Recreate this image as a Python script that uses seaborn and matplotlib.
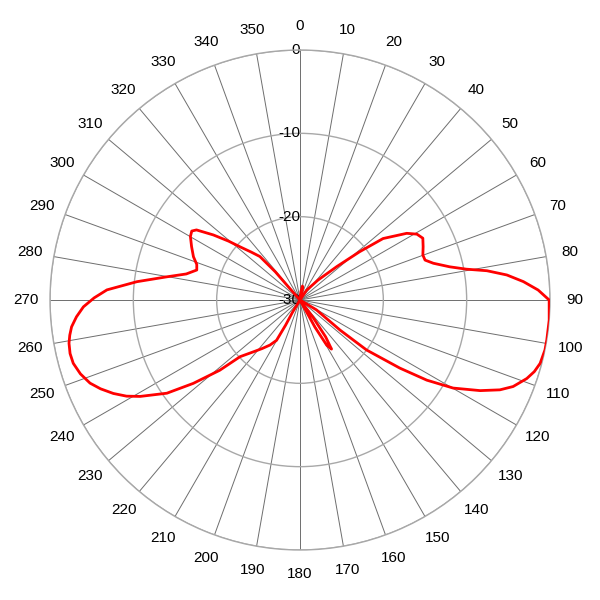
import numpy as np
import pandas as pd
import matplotlib.pyplot as plt
import seaborn as sns

sns.set_style("white")
plt.rcParams['font.family'] = ['Liberation Sans', 'DejaVu Sans']
plt.rcParams['text.color'] = 'black'

# radiation pattern, in drawing order
# (degrees clockwise from north, gain in dB)
angle_deg = [0, 6, 10, 13, 18, 30, 33.8, 42, 47.8, 51, 53.5, 58, 60.6, 63.3, 66.6, 69.9,
             72.3, 74.6, 77.5, 79.5, 81.1, 83.1, 85.3, 87.6, 90, 94.6, 99.2, 101.5, 104.8,
             107, 109.1, 112.1, 114.2, 116.7, 119.9, 122.3, 124.3, 126.9, 126.9, 121, 121,
             141, 143.2, 145.2, 147.3, 149.4, 151.2, 153.2,
             205, 211.5, 209.8, 210.2, 213.7, 218, 222.1, 226.6, 228.8, 232, 235, 238.9,
             241, 243.4, 246, 248.4, 251.4, 254.4, 256.9, 259.4, 261.3, 263.3, 265.7, 268.2,
             270.6, 273, 276.4, 279.9, 282.9, 286.2, 289, 292.1, 296.2, 300.1, 302.5, 304.1,
             306.9, 309.5, 311.6, 314.5, 317.3, 318.8, 318.5, 320, 360]
gain_db = [-30, -29.0, -28.3, -28.6, -30, -30, -28.6, -26.8, -24.0, -20.8, -17.6, -14.9,
           -13.9, -13.5, -13.9, -14.3, -14.25, -13.4, -11.6, -9.7, -7.3, -5.0, -3.1, -1.4,
           -0.1, 0.0, 0.0, 0.0, -0.2, -0.6, -1.2, -2.4, -3.7, -5.8, -8.8, -12.0, -15.5,
           -20.0, -24.0, -27.7, -30,
           -30, -27.3, -24.6, -23.0, -23.7, -26.3, -30,
           -30, -28.3, -26.5, -24.4, -23.5, -22.6, -21.6, -20.1, -17.2, -13.75, -10.5,
           -7.6, -6.2, -4.95, -3.8, -2.9, -2.2, -1.75, -1.67, -1.8, -2.05, -2.4, -3.1, -4.0,
           -5.3, -6.8, -10.3, -13.8, -16.0, -17.1, -16.9, -16.2, -15.5, -14.8, -14.6, -15.0,
           -17.0, -18.9, -20.4, -21.8, -22.9, -25.5, -28.0, -30, -30]

angle_ticks = list(range(0, 360, 10))
ring_values = [-30, -20, -10, 0]

df = pd.DataFrame({"theta": np.deg2rad(angle_deg), "gain": gain_db})

fig = plt.figure(figsize=(6, 6), dpi=100)
ax = fig.add_axes([50 / 600, 50 / 600, 500 / 600, 500 / 600], projection="polar")
ax.set_theta_zero_location("N")
ax.set_theta_direction(-1)

sns.lineplot(data=df, x="theta", y="gain", sort=False, estimator=None,
             color="#ff0000", lw=2, ax=ax, zorder=5)
for line in ax.lines:
    line.set_solid_joinstyle("round")

ax.set_ylim(-30, 0)
ax.set_rgrids(ring_values, labels=[""] * len(ring_values))
for v in ring_values:
    ax.text(0, v, str(v), ha="right", va="center", fontsize=11, color="black", zorder=1)

ax.set_thetagrids(angle_ticks, labels=[str(a) for a in angle_ticks], fontsize=11)
ax.tick_params(axis="x", pad=7, colors="black")
ax.xaxis.grid(True, color="#6e6e6e", lw=0.7)
ax.yaxis.grid(True, color="#a8a8a8", lw=1)
ax.spines["polar"].set_color("#a8a8a8")
ax.spines["polar"].set_linewidth(1)
ax.set_xlabel("")
ax.set_ylabel("")

fig.savefig("out.png", dpi=100)
